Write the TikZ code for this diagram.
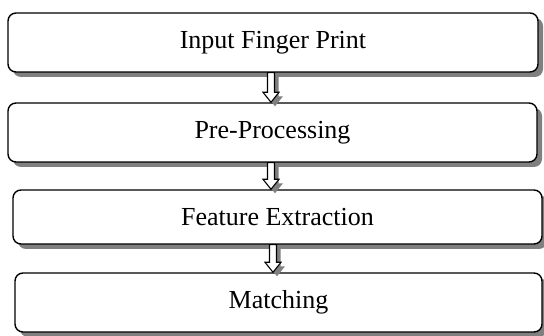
\documentclass[tikz,border=0pt]{standalone}
\usepackage{fontspec}
\setmainfont{Liberation Serif}
\usetikzlibrary{shadows,calc}

\tikzset{
  stagebox/.style={draw=black, line width=1.4pt, fill=white,
    rounded corners=8pt, inner sep=0pt, font=\fontsize{26}{30}\selectfont,
    drop shadow={shadow xshift=5pt, shadow yshift=-5pt, fill=black!50, opacity=1}},
  flowarrow/.style={draw=black, line width=1.1pt, fill=white, line join=miter,
    drop shadow={shadow xshift=4pt, shadow yshift=-4pt, fill=black!50, opacity=1}}
}

% hollow block arrow from the bottom of #1 to the top of #2, on the vertical x=#3 (pt)
\newcommand{\stagearrow}[3]{%
  \path[flowarrow] let \p1=(#1.south), \p2=(#2.north) in
    ({#3pt-3.5pt},\y1) -- ({#3pt-3.5pt},{\y2+10pt}) -- ({#3pt-8pt},{\y2+10pt})
    -- ({#3pt},\y2) -- ({#3pt+8pt},{\y2+10pt}) -- ({#3pt+3.5pt},{\y2+10pt})
    -- ({#3pt+3.5pt},\y1) -- cycle;
}

\begin{document}
\begin{tikzpicture}[x=1pt, y=-1pt]
  \useasboundingbox (0,0) rectangle (544,336);

  \node[stagebox, minimum width=530pt, minimum height=59pt] (input)
    at (273,42.5) {Input Finger Print};
  \node[stagebox, minimum width=529pt, minimum height=59pt] (pre)
    at (272.5,132.5) {Pre-Processing};
  \node[stagebox, minimum width=529pt, minimum height=54pt] (feat)
    at (277.5,217) {Feature Extraction};
  \node[stagebox, minimum width=527pt, minimum height=59pt] (match)
    at (278.5,302.5) {Matching};

  \stagearrow{input}{pre}{271}
  \stagearrow{pre}{feat}{271}
  \stagearrow{feat}{match}{273}
\end{tikzpicture}
\end{document}
